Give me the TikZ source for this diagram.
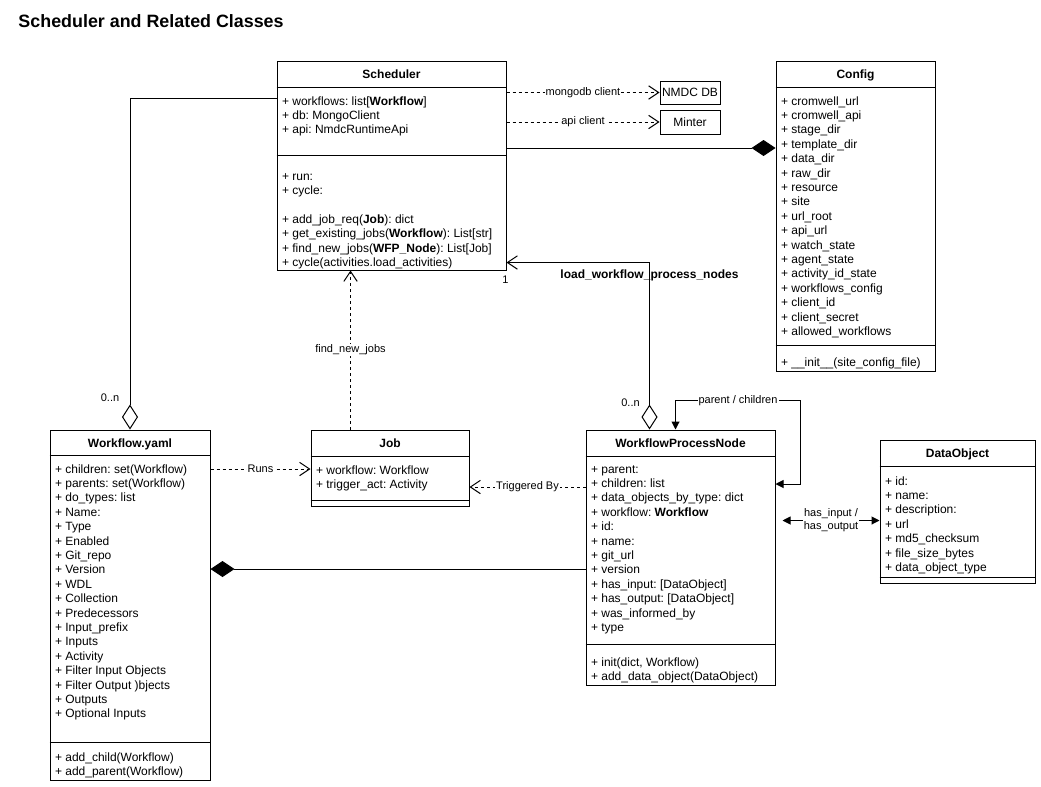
\documentclass[tikz,border=0pt]{standalone}
\usepackage{fontspec}
\setmainfont{Liberation Sans}
\usetikzlibrary{arrows.meta,calc,fit}
\frenchspacing
\newcommand\classrows[4]{%
  \foreach \txt [count=\k] in {#4}{%
    \node[row] (#1-\k) at ($(#2.north west)+(5,{#3+2+(\k-1)*14.4})$) {\txt};
  }%
}
\begin{document}
\begin{tikzpicture}[x=0.75pt,y=-0.75pt,line width=0.75pt,
  box/.style={draw,inner sep=0pt},
  row/.style={anchor=base west,inner sep=0pt,font=\fontsize{9}{10.8}\selectfont},
  hdr/.style={anchor=base,inner sep=0pt,font=\fontsize{9}{10.8}\selectfont\bfseries},
  lbl/.style={fill=white,inner sep=0.8pt,font=\fontsize{8.25}{9.9}\selectfont},
  note/.style={inner sep=0pt,font=\fontsize{8.25}{9.9}\selectfont},
  dep/.style={dash pattern=on 2.25pt off 2.25pt,-{Straight Barb[length=7.5pt,width=10pt]}},
  comp/.style={-{Diamond[length=18pt,width=12pt]}},
  agg/.style={-{Diamond[open,length=18.75pt,width=12pt]}},
  aggnav/.style={{Diamond[open,length=18.75pt,width=12pt]}-{Straight Barb[length=7.5pt,width=10pt]}},
  biarrow/.style={{Triangle[length=6pt,width=6pt]}-{Triangle[length=6pt,width=6pt]}}
]
\useasboundingbox (0,0) rectangle (1041,786);

\node[anchor=base west,inner sep=0pt,font=\fontsize{13.4}{16}\selectfont\bfseries] (title) at (18,27) {Scheduler and Related Classes};

% ---------- boxes ----------
\node[box,fit={(277,61) (506,270)}] (sch) {};
\node[box,fit={(660,81) (720,104)}] (db) {};
\node[inner sep=0pt,font=\fontsize{9}{10.8}\selectfont] (db-t) at (db.center) {NMDC DB};
\node[box,fit={(660,110) (720,134)}] (mint) {};
\node[inner sep=0pt,font=\fontsize{9}{10.8}\selectfont] (mint-t) at (mint.center) {Minter};
\node[box,fit={(776,61) (935,371)}] (cfg) {};
\node[box,fit={(50,430) (210,780)}] (wf) {};
\node[box,fit={(311,430) (469,506)}] (job) {};
\node[box,fit={(586,430) (775,685)}] (wpn) {};
\node[box,fit={(880,440) (1035,583)}] (dobj) {};

% ---------- compartments ----------
\draw (sch.west |- 0,87) -- (sch.east |- 0,87);
\draw (sch.west |- 0,155) -- (sch.east |- 0,155);
\draw (cfg.west |- 0,87) -- (cfg.east |- 0,87);
\draw (cfg.west |- 0,345) -- (cfg.east |- 0,345);
\draw (wf.west |- 0,455) -- (wf.east |- 0,455);
\draw (wf.west |- 0,742) -- (wf.east |- 0,742);
\draw (job.west |- 0,456) -- (job.east |- 0,456);
\draw (job.west |- 0,500) -- (job.east |- 0,500);
\draw (wpn.west |- 0,456) -- (wpn.east |- 0,456);
\draw (wpn.west |- 0,644) -- (wpn.east |- 0,644);
\draw (dobj.west |- 0,466) -- (dobj.east |- 0,466);
\draw (dobj.west |- 0,577) -- (dobj.east |- 0,577);

% ---------- headers ----------
\node[hdr] (sch-h) at ($(sch.north)+(0,18)$) {Scheduler};
\node[hdr] (cfg-h) at ($(cfg.north)+(0,18)$) {Config};
\node[hdr] (wf-h) at ($(wf.north)+(0,18)$) {Workflow.yaml};
\node[hdr] (job-h) at ($(job.north)+(0,18)$) {Job};
\node[hdr] (wpn-h) at ($(wpn.north)+(0,18)$) {WorkflowProcessNode};
\node[hdr] (dobj-h) at ($(dobj.north)+(0,18)$) {DataObject};

% ---------- rows ----------
\classrows{scha}{sch}{42.5}{+ workflows: list[\textbf{Workflow}], + db: MongoClient, + api: NmdcRuntimeApi}
\classrows{schm}{sch}{117.5}{+ run:, + cycle:}
\classrows{schn}{sch}{160.7}{+ add\_job\_req(\textbf{Job}): dict, + get\_existing\_jobs(\textbf{Workflow}): List[str], + find\_new\_jobs(\textbf{WFP\_Node}): List[Job], + cycle(activities.load\_activities)}
\classrows{cfga}{cfg}{42.5}{+ cromwell\_url, + cromwell\_api, + stage\_dir, + template\_dir, + data\_dir, + raw\_dir, + resource, + site, + url\_root, + api\_url, + watch\_state, + agent\_state, + activity\_id\_state, + workflows\_config, + client\_id, + client\_secret, + allowed\_workflows}
\classrows{cfgm}{cfg}{303.5}{+ \_\_init\_\_(site\_config\_file)}
\classrows{wfa}{wf}{41.5}{+ children: set(Workflow), + parents: set(Workflow), + do\_types: list, + Name:, + Type, + Enabled, + Git\_repo, + Version, + WDL, + Collection, + Predecessors, + Input\_prefix, + Inputs, + Activity, + Filter Input Objects, + Filter Output )bjects, + Outputs, + Optional Inputs}
\classrows{wfm}{wf}{329.5}{+ add\_child(Workflow), + add\_parent(Workflow)}
\classrows{joba}{job}{42.5}{+ workflow: Workflow, + trigger\_act: Activity}
\classrows{wpna}{wpn}{41.5}{+ parent:, + children: list, + data\_objects\_by\_type: dict, + workflow: \textbf{Workflow}, + id:, + name:, + git\_url, + version, + has\_input: [DataObject], + has\_output: [DataObject], + was\_informed\_by, + type}
\classrows{wpnm}{wpn}{234.5}{{+ init(dict, Workflow)}, + add\_data\_object(DataObject)}
\classrows{dobja}{dobj}{43.5}{+ id:, + name:, + description:, + url, + md5\_checksum, + file\_size\_bytes, + data\_object\_type}

% ---------- connectors ----------
\draw[agg] (sch.west |- 0,98) -| (wf.north);
\node[note] (n1) at ($(wf.north)+(-20,-32)$) {0..n};

\draw[dep] (sch.east |- db.west) -- node[lbl] {mongodb client} (db.west);
\draw[dep] (sch.east |- mint.west) -- node[lbl] {api client} (mint.west);
\draw[comp] (sch.east |- 0,148) -- (cfg.west |- 0,148);

\coordinate (wt) at ($(wpn.north west)+(64,0)$);
\draw[aggnav] (wt) |- node[pos=0.5,below=5.25pt,inner sep=0pt,font=\fontsize{9}{10.8}\selectfont\bfseries] {load\_workflow\_process\_nodes} ($(sch.south east)+(0,-8)$);
\node[note] (one) at ($(sch.south east)+(-1,9)$) {1};
\node[note] (n2) at ($(wpn.north west)+(45,-27)$) {0..n};

\coordinate (jt) at ($(job.north west)+(40,0)$);
\draw[dep] (jt) -- node[lbl] {find\_new\_jobs} (sch.south -| jt);

\draw[dep] (wf.east |- 0,469) -- node[lbl] {Runs} (job.west |- 0,469);
\draw[dep] (wpn.west |- 0,487) -- node[lbl] {Triggered By} (job.east |- 0,487);
\draw[comp] (wpn.west |- 0,569) -- (wf.east |- 0,569);

\draw[biarrow] (wpn.east |- 0,484) -| ($(wpn.north east)+(25,-29)$) -| node[pos=0.25,lbl] {parent / children} ($(wpn.north west)+(90,0)$);

\coordinate (hio) at ($(wpn.north east)+(7,91)$);
\draw[biarrow] (hio) -- node[lbl,align=center] {has\_input /\\has\_output} (dobj.west |- hio);
\end{tikzpicture}
\end{document}
